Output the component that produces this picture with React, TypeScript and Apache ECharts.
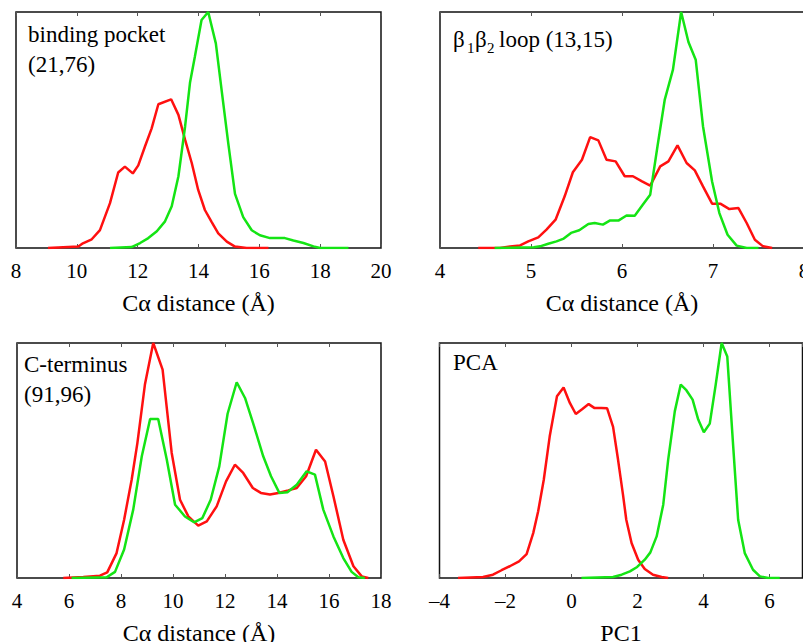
import React, { useEffect, useRef } from "react";
import * as echarts from "echarts";

// ---- data: [x, normalized density] ----
const pocketRed: number[][] = [
  [9.05, 0], [10.05, 0.006], [10.2, 0.02], [10.49, 0.037], [10.76, 0.076], [11.09, 0.19], [11.36, 0.32],
  [11.58, 0.345], [11.84, 0.316], [12.02, 0.35], [12.24, 0.43], [12.46, 0.507], [12.68, 0.609], [13.1, 0.63],
  [13.34, 0.564], [13.56, 0.458], [13.78, 0.359], [13.99, 0.246], [14.21, 0.161], [14.43, 0.111], [14.65, 0.062],
  [14.93, 0.027], [15.2, 0.006], [15.58, 0], [16.3, 0],
];
const pocketGreen: number[][] = [
  [11.09, 0], [11.8, 0.004], [12.08, 0.021], [12.35, 0.042], [12.63, 0.071], [12.9, 0.113], [13.12, 0.177],
  [13.34, 0.304], [13.56, 0.516], [13.72, 0.7], [13.88, 0.81], [14.1, 0.966], [14.32, 1.0], [14.57, 0.867],
  [14.76, 0.669], [14.98, 0.442], [15.2, 0.229], [15.47, 0.131], [15.75, 0.075], [16.02, 0.054], [16.35, 0.042],
  [16.84, 0.042], [17.12, 0.032], [17.45, 0.021], [17.78, 0.007], [18.0, 0], [18.93, 0],
];
const loopRed: number[][] = [
  [4.42, 0], [4.66, 0], [4.77, 0.006], [4.88, 0.011], [4.97, 0.028], [5.08, 0.045], [5.17, 0.078], [5.27, 0.12],
  [5.37, 0.219], [5.46, 0.321], [5.56, 0.374], [5.65, 0.47], [5.74, 0.456], [5.83, 0.374], [5.93, 0.367],
  [6.03, 0.304], [6.12, 0.304], [6.22, 0.282], [6.31, 0.264], [6.42, 0.346], [6.51, 0.367], [6.61, 0.435],
  [6.71, 0.36], [6.8, 0.329], [6.89, 0.261], [6.99, 0.188], [7.08, 0.188], [7.18, 0.165], [7.28, 0.169],
  [7.37, 0.106], [7.46, 0.035], [7.55, 0.007], [7.65, 0],
];
const loopGreen: number[][] = [
  [4.6, 0], [5.03, 0.003], [5.1, 0.007], [5.19, 0.018], [5.28, 0.028], [5.36, 0.04], [5.44, 0.064], [5.53, 0.075],
  [5.63, 0.102], [5.7, 0.106], [5.79, 0.099], [5.87, 0.117], [5.96, 0.116], [6.05, 0.138], [6.14, 0.137],
  [6.23, 0.184], [6.31, 0.226], [6.39, 0.431], [6.47, 0.629], [6.56, 0.756], [6.65, 1.0], [6.73, 0.873],
  [6.81, 0.798], [6.89, 0.516], [6.99, 0.282], [7.07, 0.148], [7.16, 0.056], [7.26, 0.01], [7.37, 0], [7.5, 0],
];
const ctermRed: number[][] = [
  [5.78, 0], [6.55, 0.004], [7.19, 0.01], [7.47, 0.024], [7.83, 0.106], [8.12, 0.248], [8.41, 0.418], [8.63, 0.574],
  [8.92, 0.823], [9.24, 1.0], [9.6, 0.887], [9.95, 0.532], [10.27, 0.333], [10.59, 0.262], [10.97, 0.223],
  [11.3, 0.241], [11.68, 0.305], [12.04, 0.411], [12.38, 0.482], [12.7, 0.447], [13.07, 0.383], [13.38, 0.362],
  [13.73, 0.355], [14.05, 0.362], [14.43, 0.373], [14.76, 0.383], [15.12, 0.433], [15.5, 0.546], [15.85, 0.496],
  [16.17, 0.348], [16.55, 0.163], [16.94, 0.05], [17.26, 0.007], [17.51, 0],
];
const ctermGreen: number[][] = [
  [6.1, 0], [7.45, 0.003], [7.77, 0.026], [8.12, 0.121], [8.47, 0.291], [8.8, 0.518], [9.12, 0.677], [9.43, 0.677],
  [9.76, 0.504], [10.08, 0.312], [10.46, 0.262], [10.81, 0.237], [11.13, 0.255], [11.45, 0.333], [11.78, 0.475],
  [12.1, 0.699], [12.45, 0.833], [12.77, 0.766], [13.12, 0.645], [13.47, 0.518], [13.77, 0.433], [14.09, 0.362],
  [14.4, 0.365], [14.76, 0.397], [15.14, 0.454], [15.46, 0.44], [15.78, 0.291], [16.17, 0.177], [16.55, 0.085],
  [16.87, 0.026], [17.13, 0.003], [17.38, 0],
];
const pcaRed: number[][] = [
  [-3.44, 0], [-2.68, 0.004], [-2.38, 0.014], [-2.12, 0.033], [-1.87, 0.05], [-1.59, 0.071], [-1.36, 0.102],
  [-1.16, 0.191], [-1.01, 0.284], [-0.84, 0.418], [-0.66, 0.603], [-0.44, 0.773], [-0.24, 0.811], [-0.05, 0.745],
  [0.13, 0.698], [0.33, 0.719], [0.52, 0.74], [0.7, 0.723], [0.9, 0.723], [1.08, 0.722], [1.26, 0.643],
  [1.41, 0.504], [1.56, 0.355], [1.66, 0.248], [1.82, 0.149], [2.02, 0.078], [2.22, 0.038], [2.47, 0.014],
  [2.73, 0.004], [2.93, 0],
];
const pcaGreen: number[][] = [
  [0.3, 0], [1.26, 0.004], [1.52, 0.014], [1.77, 0.028], [1.99, 0.047], [2.22, 0.078], [2.39, 0.109], [2.58, 0.177],
  [2.78, 0.312], [2.93, 0.504], [3.13, 0.709], [3.31, 0.823], [3.48, 0.799], [3.67, 0.759], [3.84, 0.674],
  [4.01, 0.62], [4.19, 0.657], [4.37, 0.823], [4.55, 1.0], [4.72, 0.943], [4.9, 0.56], [5.05, 0.248], [5.25, 0.106],
  [5.5, 0.035], [5.71, 0.007], [5.96, 0], [6.31, 0],
];

const xRanges = [
  { min: 8, max: 20, interval: 2 },
  { min: 4, max: 8, interval: 1 },
  { min: 4, max: 18, interval: 2 },
  { min: -4, max: 7, interval: 2 },
];
const xNames = ["Cα distance (Å)", "Cα distance (Å)", "Cα distance (Å)", "PC1"];
const panelSeries = [
  [pocketRed, pocketGreen],
  [loopRed, loopGreen],
  [ctermRed, ctermGreen],
  [pcaRed, pcaGreen],
];

const RED = "#ff1010";
const GREEN = "#14e414";
const SERIF = "Liberation Serif";

const grids: any[] = [
  { left: 16, top: 12, width: 365, height: 236 },
  { left: 440, top: 12, width: 364, height: 236 },
  { left: 17, top: 343, width: 364, height: 235 },
  { left: 439.5, top: 343, width: 363, height: 235 },
];

function fmt(v: number, max: number, interval: number, min: number) {
  if ((v - min) % interval !== 0 && v === max) return "";
  return v < 0 ? "\u2013" + Math.abs(v) : String(v);
}

export default function App() {
  const ref = useRef<HTMLDivElement>(null);
  useEffect(() => {
    if (!ref.current) return;
    const chart = echarts.init(ref.current, undefined, { renderer: "svg" });
    const xAxis: any[] = [];
    const yAxis: any[] = [];
    const series: any[] = [];
    grids.forEach((_, i) => {
      const r = xRanges[i];
      xAxis.push({
        type: "value",
        gridIndex: i,
        position: "bottom",
        min: r.min,
        max: r.max,
        interval: r.interval,
        axisLine: { show: false },
        axisTick: { show: true, inside: true, length: 4, lineStyle: { color: "#555", width: 1 } },
        splitLine: { show: false },
        axisLabel: {
          show: true,
          margin: 12,
          color: "#000",
          fontFamily: SERIF,
          fontSize: 21,
          showMaxLabel: i !== 3,
          formatter: (v: number) => fmt(v, r.max, r.interval, r.min),
        },
        name: xNames[i],
        nameLocation: "middle",
        nameGap: 43,
        nameTextStyle: { color: "#000", fontFamily: SERIF, fontSize: 24 },
      });
      xAxis.push({
        type: "value",
        gridIndex: i,
        position: "top",
        min: r.min,
        max: r.max,
        interval: r.interval,
        axisLine: { show: false },
        axisTick: { show: true, inside: true, length: 4, lineStyle: { color: "#555", width: 1 } },
        splitLine: { show: false },
        axisLabel: { show: false },
      });
      yAxis.push({
        type: "value",
        gridIndex: i,
        min: 0,
        max: 1,
        show: false,
        splitLine: { show: false },
      });
      const [red, green] = panelSeries[i];
      series.push({
        type: "line",
        xAxisIndex: i * 2,
        yAxisIndex: i,
        data: red,
        showSymbol: false,
        symbol: "none",
        lineStyle: { color: RED, width: 2.5 },
        silent: true,
      });
      series.push({
        type: "line",
        xAxisIndex: i * 2,
        yAxisIndex: i,
        data: green,
        showSymbol: false,
        symbol: "none",
        lineStyle: { color: GREEN, width: 2.5 },
        silent: true,
      });
    });

    const txt = (text: string, x: number, y: number, size = 23) => ({
      type: "text",
      x,
      y,
      silent: true,
      style: {
        text,
        fill: "#000",
        fontSize: size,
        fontFamily: SERIF,
        align: "left",
        verticalAlign: "middle",
        textAlign: "left",
        textVerticalAlign: "middle",
      },
    });

    chart.setOption({
      animation: false,
      backgroundColor: "#fff",
      grid: grids.map((g) => ({
        ...g,
        show: true,
        borderColor: "#111",
        borderWidth: 1.5,
        backgroundColor: "transparent",
        containLabel: false,
        outerBoundsMode: "none",
      })),
      xAxis,
      yAxis,
      series,
      graphic: [
        txt("binding pocket", 28, 34),
        txt("(21,76)", 28, 64),
        txt("\u03b2", 453, 39),
        txt("1", 467, 48, 15),
        txt("\u03b2", 475, 39),
        txt("2", 487, 48, 15),
        txt("loop (13,15)", 499, 39),
        txt("C-terminus", 24, 364),
        txt("(91,96)", 24, 394),
        txt("PCA", 453, 362),
      ],
    });
    return () => chart.dispose();
  }, []);
  return (
    <div
      ref={ref}
      style={{ position: "fixed", left: 0, top: 0, width: 803, height: 642, background: "#fff" }}
    />
  );
}
